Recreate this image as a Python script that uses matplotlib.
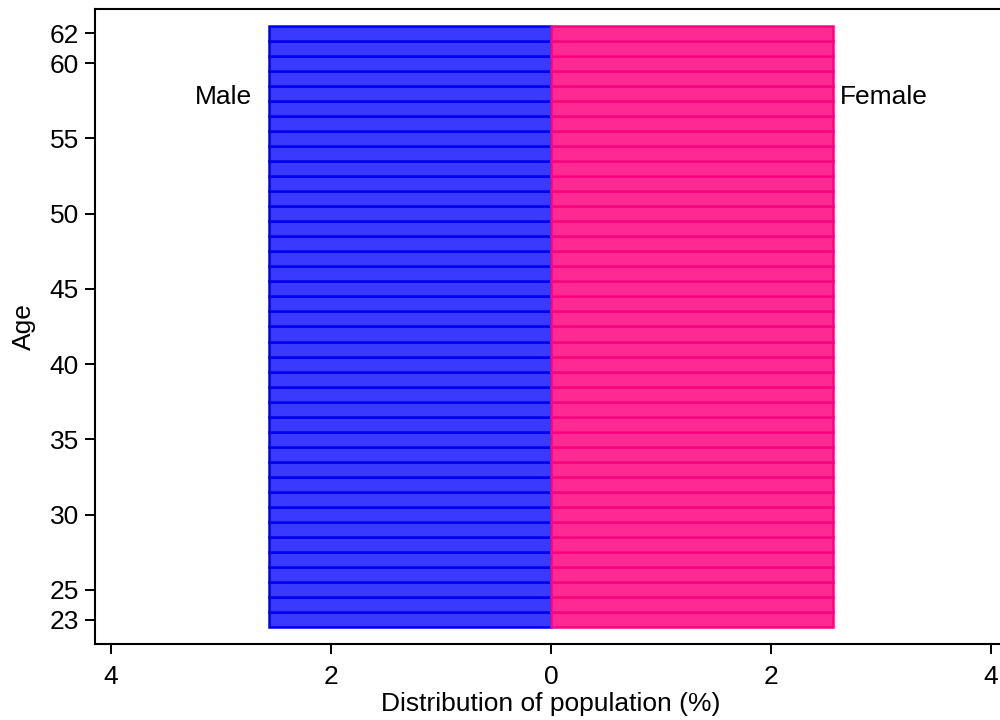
import matplotlib
matplotlib.use("Agg")
import matplotlib.pyplot as plt
import numpy as np

plt.rcParams['font.family'] = ['Liberation Sans', 'DejaVu Sans']

ages = list(range(23, 63))
male_pct = [2.56] * 40
female_pct = [2.56] * 40
y_ticks = [23, 25, 30, 35, 40, 45, 50, 55, 60, 62]
x_ticks = [-4, -2, 0, 2, 4]
x_tick_labels = ['4', '2', '0', '2', '4']

fig = plt.figure(figsize=(10, 7.2), dpi=100)
ax = fig.add_axes([0.095, 0.1056, 0.912, 0.8819])

male_fill = '#3a3aff'
male_edge = '#0000f0'
fem_fill = '#ff2994'
fem_edge = '#f5067e'

ax.barh(ages, [-v for v in male_pct], height=1.0, color=male_fill, edgecolor=male_edge, linewidth=1.8)
ax.barh(ages, female_pct, height=1.0, color=fem_fill, edgecolor=fem_edge, linewidth=1.8)

ax.set_xlim(-4.145, 4.145)
ax.set_ylim(21.4, 63.6)
ax.set_xticks(x_ticks)
ax.set_xticklabels(x_tick_labels)
ax.set_yticks(y_ticks)
ax.tick_params(axis='both', labelsize=19, length=7.5, width=1.4, direction='out', colors='black', pad=4)
ax.tick_params(axis='x', pad=7.5)
for s in ax.spines.values():
    s.set_linewidth(1.5)

ax.text(-2.72, 57.75, 'Male', ha='right', va='center', fontsize=19)
ax.text(2.63, 57.75, 'Female', ha='left', va='center', fontsize=19)

ax.set_xlabel('Distribution of population (%)', fontsize=19, labelpad=2)
ax.set_ylabel('Age', fontsize=19, labelpad=10)

fig.savefig('out.png', dpi=100)
